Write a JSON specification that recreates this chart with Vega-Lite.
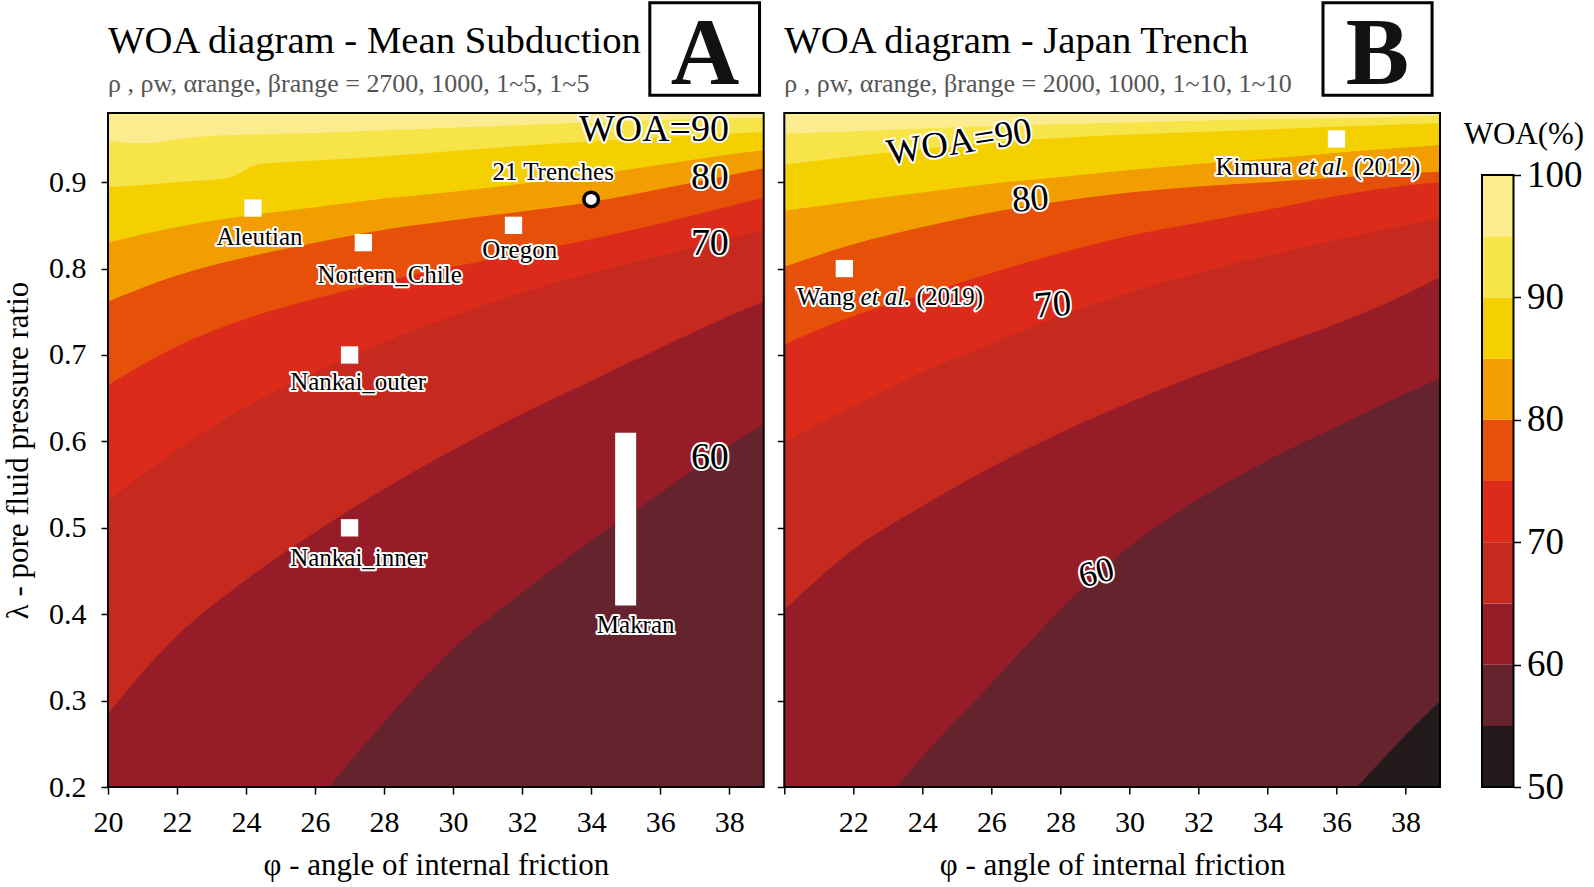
{
  "$schema": "https://vega.github.io/schema/vega-lite/v6.json",
  "background": "white",
  "padding": {"left": 2, "top": 1, "right": 2, "bottom": 2},
  "bounds": "flush",
  "spacing": 20.3,
  "config": {
    "font": "Liberation Serif",
    "view": {"stroke": null},
    "axis": {"domain": false, "grid": false, "tickColor": "#000", "tickSize": 7, "tickWidth": 1.5, "labelFont": "Liberation Serif", "labelFontSize": 30, "labelColor": "#000", "titleFont": "Liberation Serif", "titleFontSize": 31, "titleFontWeight": "normal", "titleColor": "#000", "labelPadding": 13, "titlePadding": 13, "labelFlush": false, "labelOverlap": false},
    "text": {"font": "Liberation Serif"}
  },
  "datasets": {
    "contA": [
      {"level":60,"phi":20,"lam":-0.12},{"level":60,"phi":22,"lam":-0.02},{"level":60,"phi":24,"lam":0.08},{"level":60,"phi":26,"lam":0.18},{"level":60,"phi":28,"lam":0.275},{"level":60,"phi":30,"lam":0.36},{"level":60,"phi":32,"lam":0.425},{"level":60,"phi":34,"lam":0.485},{"level":60,"phi":36,"lam":0.54},{"level":60,"phi":38,"lam":0.595},{"level":60,"phi":39,"lam":0.62},
      {"level":65,"phi":20,"lam":0.285},{"level":65,"phi":22,"lam":0.375},{"level":65,"phi":24,"lam":0.44},{"level":65,"phi":26,"lam":0.495},{"level":65,"phi":28,"lam":0.545},{"level":65,"phi":30,"lam":0.59},{"level":65,"phi":32,"lam":0.632},{"level":65,"phi":34,"lam":0.67},{"level":65,"phi":36,"lam":0.708},{"level":65,"phi":38,"lam":0.745},{"level":65,"phi":39,"lam":0.762},
      {"level":70,"phi":20,"lam":0.532},{"level":70,"phi":22,"lam":0.59},{"level":70,"phi":24,"lam":0.64},{"level":70,"phi":26,"lam":0.68},{"level":70,"phi":28,"lam":0.715},{"level":70,"phi":30,"lam":0.745},{"level":70,"phi":32,"lam":0.772},{"level":70,"phi":34,"lam":0.795},{"level":70,"phi":36,"lam":0.815},{"level":70,"phi":38,"lam":0.835},{"level":70,"phi":39,"lam":0.844},
      {"level":75,"phi":20,"lam":0.665},{"level":75,"phi":22,"lam":0.71},{"level":75,"phi":24,"lam":0.742},{"level":75,"phi":26,"lam":0.765},{"level":75,"phi":28,"lam":0.785},{"level":75,"phi":30,"lam":0.802},{"level":75,"phi":32,"lam":0.818},{"level":75,"phi":34,"lam":0.834},{"level":75,"phi":36,"lam":0.852},{"level":75,"phi":38,"lam":0.872},{"level":75,"phi":39,"lam":0.882},
      {"level":80,"phi":20,"lam":0.762},{"level":80,"phi":22,"lam":0.792},{"level":80,"phi":24,"lam":0.813},{"level":80,"phi":26,"lam":0.83},{"level":80,"phi":28,"lam":0.845},{"level":80,"phi":30,"lam":0.856},{"level":80,"phi":32,"lam":0.866},{"level":80,"phi":34,"lam":0.877},{"level":80,"phi":36,"lam":0.892},{"level":80,"phi":38,"lam":0.908},{"level":80,"phi":39,"lam":0.916},
      {"level":85,"phi":20,"lam":0.83},{"level":85,"phi":22,"lam":0.848},{"level":85,"phi":24,"lam":0.861},{"level":85,"phi":26,"lam":0.871},{"level":85,"phi":28,"lam":0.881},{"level":85,"phi":30,"lam":0.889},{"level":85,"phi":32,"lam":0.898},{"level":85,"phi":34,"lam":0.908},{"level":85,"phi":36,"lam":0.92},{"level":85,"phi":38,"lam":0.932},{"level":85,"phi":39,"lam":0.937},
      {"level":90,"phi":20,"lam":0.894},{"level":90,"phi":22,"lam":0.9},{"level":90,"phi":23.5,"lam":0.905},{"level":90,"phi":24.3,"lam":0.92},{"level":90,"phi":26,"lam":0.925},{"level":90,"phi":28,"lam":0.93},{"level":90,"phi":30,"lam":0.936},{"level":90,"phi":32,"lam":0.942},{"level":90,"phi":34,"lam":0.947},{"level":90,"phi":36,"lam":0.952},{"level":90,"phi":38,"lam":0.956},{"level":90,"phi":39,"lam":0.958},
      {"level":95,"phi":20,"lam":0.948},{"level":95,"phi":21,"lam":0.945},{"level":95,"phi":22.5,"lam":0.952},{"level":95,"phi":24,"lam":0.955},{"level":95,"phi":26,"lam":0.957},{"level":95,"phi":28,"lam":0.96},{"level":95,"phi":30,"lam":0.963},{"level":95,"phi":32,"lam":0.966},{"level":95,"phi":34,"lam":0.969},{"level":95,"phi":36,"lam":0.972},{"level":95,"phi":38,"lam":0.974},{"level":95,"phi":39,"lam":0.975}
    ],
    "contB": [
      {"level":55,"phi":20,"lam":-0.5},{"level":55,"phi":22,"lam":-0.4},{"level":55,"phi":24,"lam":-0.3},{"level":55,"phi":26,"lam":-0.2},{"level":55,"phi":28,"lam":-0.11},{"level":55,"phi":30,"lam":-0.03},{"level":55,"phi":32,"lam":0.03},{"level":55,"phi":34,"lam":0.095},{"level":55,"phi":36,"lam":0.175},{"level":55,"phi":38,"lam":0.26},{"level":55,"phi":39,"lam":0.3},
      {"level":60,"phi":20,"lam":0.04},{"level":60,"phi":22,"lam":0.14},{"level":60,"phi":24,"lam":0.235},{"level":60,"phi":26,"lam":0.32},{"level":60,"phi":28,"lam":0.405},{"level":60,"phi":30,"lam":0.478},{"level":60,"phi":32,"lam":0.533},{"level":60,"phi":34,"lam":0.578},{"level":60,"phi":36,"lam":0.617},{"level":60,"phi":38,"lam":0.655},{"level":60,"phi":39,"lam":0.673},
      {"level":65,"phi":20,"lam":0.405},{"level":65,"phi":22,"lam":0.475},{"level":65,"phi":24,"lam":0.525},{"level":65,"phi":26,"lam":0.57},{"level":65,"phi":28,"lam":0.61},{"level":65,"phi":30,"lam":0.645},{"level":65,"phi":32,"lam":0.677},{"level":65,"phi":34,"lam":0.707},{"level":65,"phi":36,"lam":0.736},{"level":65,"phi":38,"lam":0.77},{"level":65,"phi":39,"lam":0.79},
      {"level":70,"phi":20,"lam":0.6},{"level":70,"phi":22,"lam":0.64},{"level":70,"phi":24,"lam":0.68},{"level":70,"phi":26,"lam":0.713},{"level":70,"phi":28,"lam":0.745},{"level":70,"phi":30,"lam":0.772},{"level":70,"phi":32,"lam":0.795},{"level":70,"phi":34,"lam":0.815},{"level":70,"phi":36,"lam":0.833},{"level":70,"phi":38,"lam":0.85},{"level":70,"phi":39,"lam":0.858},
      {"level":75,"phi":20,"lam":0.712},{"level":75,"phi":22,"lam":0.745},{"level":75,"phi":24,"lam":0.77},{"level":75,"phi":26,"lam":0.795},{"level":75,"phi":28,"lam":0.818},{"level":75,"phi":30,"lam":0.838},{"level":75,"phi":32,"lam":0.853},{"level":75,"phi":34,"lam":0.868},{"level":75,"phi":36,"lam":0.884},{"level":75,"phi":38,"lam":0.896},{"level":75,"phi":39,"lam":0.9},
      {"level":80,"phi":20,"lam":0.802},{"level":80,"phi":22,"lam":0.828},{"level":80,"phi":24,"lam":0.848},{"level":80,"phi":26,"lam":0.865},{"level":80,"phi":28,"lam":0.878},{"level":80,"phi":30,"lam":0.888},{"level":80,"phi":32,"lam":0.895},{"level":80,"phi":34,"lam":0.9},{"level":80,"phi":36,"lam":0.905},{"level":80,"phi":38,"lam":0.91},{"level":80,"phi":39,"lam":0.912},
      {"level":85,"phi":20,"lam":0.867},{"level":85,"phi":22,"lam":0.878},{"level":85,"phi":24,"lam":0.888},{"level":85,"phi":26,"lam":0.898},{"level":85,"phi":28,"lam":0.906},{"level":85,"phi":30,"lam":0.914},{"level":85,"phi":32,"lam":0.921},{"level":85,"phi":34,"lam":0.927},{"level":85,"phi":36,"lam":0.934},{"level":85,"phi":38,"lam":0.94},{"level":85,"phi":39,"lam":0.943},
      {"level":90,"phi":20,"lam":0.92},{"level":90,"phi":22,"lam":0.93},{"level":90,"phi":24,"lam":0.938},{"level":90,"phi":26,"lam":0.946},{"level":90,"phi":28,"lam":0.951},{"level":90,"phi":30,"lam":0.955},{"level":90,"phi":32,"lam":0.958},{"level":90,"phi":34,"lam":0.961},{"level":90,"phi":36,"lam":0.964},{"level":90,"phi":38,"lam":0.967},{"level":90,"phi":39,"lam":0.968},
      {"level":95,"phi":20,"lam":0.956},{"level":95,"phi":22,"lam":0.959},{"level":95,"phi":24,"lam":0.962},{"level":95,"phi":26,"lam":0.965},{"level":95,"phi":28,"lam":0.967},{"level":95,"phi":30,"lam":0.969},{"level":95,"phi":32,"lam":0.971},{"level":95,"phi":34,"lam":0.973},{"level":95,"phi":36,"lam":0.974},{"level":95,"phi":38,"lam":0.976},{"level":95,"phi":39,"lam":0.977}
    ],
    "sitesA": [
      {"name":"Aleutian","phi":24.2,"lam":0.87},
      {"name":"Nortern_Chile","phi":27.4,"lam":0.83},
      {"name":"Oregon","phi":31.75,"lam":0.85},
      {"name":"Nankai_outer","phi":27,"lam":0.7},
      {"name":"Nankai_inner","phi":27,"lam":0.5}
    ],
    "trench21": [{"name":"21 Trenches","phi":34,"lam":0.88}],
    "makran": [{"name":"Makran","phi":35,"lo":0.41,"hi":0.61}],
    "labelsA": [
      {"text":"Aleutian","phi":24.39,"lam":0.8364},
      {"text":"21 Trenches","phi":32.9,"lam":0.9117},
      {"text":"Oregon","phi":31.93,"lam":0.8211},
      {"text":"Nortern_Chile","phi":28.16,"lam":0.7929},
      {"text":"Nankai_outer","phi":27.25,"lam":0.6683},
      {"text":"Nankai_inner","phi":27.25,"lam":0.4647},
      {"text":"Makran","phi":35.29,"lam":0.3871}
    ],
    "clabA": [
      {"text":"WOA=90","phi":35.82,"lam":0.96},
      {"text":"80","phi":37.44,"lam":0.9047},
      {"text":"70","phi":37.44,"lam":0.8282},
      {"text":"60","phi":37.44,"lam":0.5811}
    ],
    "sitesB": [
      {"name":"Wang et al. (2019)","phi":21.74,"lam":0.8},
      {"name":"Kimura et al. (2012)","phi":36,"lam":0.95}
    ],
    "refsB": [
      {"pre":"Wang","mid":"et al.","post":"(2019)","phi":22.21,"lam":0.7671},
      {"pre":"Kimura","mid":"et al.","post":"(2012)","phi":34.88,"lam":0.9176}
    ],
    "clabB": [
      {"text":"WOA=90","phi":25.07,"lam":0.9459},
      {"text":"80","phi":27.13,"lam":0.88},
      {"text":"70","phi":27.78,"lam":0.7576},
      {"text":"60","phi":29.04,"lam":0.4483}
    ],
    "tagA": [{"tag":"A","title":"WOA diagram - Mean Subduction","subtitle":"ρ , ρw, αrange, βrange = 2700, 1000, 1~5, 1~5"}],
    "tagB": [{"tag":"B","title":"WOA diagram - Japan Trench","subtitle":"ρ , ρw, αrange, βrange = 2000, 1000, 1~10, 1~10"}],
    "bands": [
      {"level":50,"lo":50,"hi":55},{"level":55,"lo":55,"hi":60},{"level":60,"lo":60,"hi":65},{"level":65,"lo":65,"hi":70},{"level":70,"lo":70,"hi":75},
      {"level":75,"lo":75,"hi":80},{"level":80,"lo":80,"hi":85},{"level":85,"lo":85,"hi":90},{"level":90,"lo":90,"hi":95},{"level":95,"lo":95,"hi":100}
    ]
  },
  "hconcat": [
    {
      "width": 655.7,
      "height": 674.1,
      "layer": [
        {"data": {"name": "tagA"}, "mark": {"type": "rect", "color": "#65232d"}, "encoding": {
          "x": {"datum": 20, "type": "quantitative", "scale": {"domain": [20, 39], "nice": false, "zero": false}, "axis": {"values": [20,22,24,26,28,30,32,34,36,38], "title": "φ - angle of internal friction"}},
          "x2": {"datum": 39},
          "y": {"datum": 0.2, "type": "quantitative", "scale": {"domain": [0.2, 0.98], "nice": false, "zero": false}, "axis": {"values": [0.2,0.3,0.4,0.5,0.6,0.7,0.8,0.9], "format": ".1f", "title": "λ - pore fluid pressure ratio", "labelPadding": 15, "titlePadding": 14}},
          "y2": {"datum": 0.98}}},
        {"data": {"name": "contA"}, "transform": [{"filter": "datum.level == 60"}], "mark": {"type": "area", "clip": true, "interpolate": "monotone", "color": "#961c28"}, "encoding": {"x": {"field": "phi", "type": "quantitative"}, "y": {"field": "lam", "type": "quantitative"}, "y2": {"datum": 1.05}}},
        {"data": {"name": "contA"}, "transform": [{"filter": "datum.level == 65"}], "mark": {"type": "area", "clip": true, "interpolate": "monotone", "color": "#c62a1f"}, "encoding": {"x": {"field": "phi", "type": "quantitative"}, "y": {"field": "lam", "type": "quantitative"}, "y2": {"datum": 1.05}}},
        {"data": {"name": "contA"}, "transform": [{"filter": "datum.level == 70"}], "mark": {"type": "area", "clip": true, "interpolate": "monotone", "color": "#dc2b1b"}, "encoding": {"x": {"field": "phi", "type": "quantitative"}, "y": {"field": "lam", "type": "quantitative"}, "y2": {"datum": 1.05}}},
        {"data": {"name": "contA"}, "transform": [{"filter": "datum.level == 75"}], "mark": {"type": "area", "clip": true, "interpolate": "monotone", "color": "#e65009"}, "encoding": {"x": {"field": "phi", "type": "quantitative"}, "y": {"field": "lam", "type": "quantitative"}, "y2": {"datum": 1.05}}},
        {"data": {"name": "contA"}, "transform": [{"filter": "datum.level == 80"}], "mark": {"type": "area", "clip": true, "interpolate": "monotone", "color": "#f39e00"}, "encoding": {"x": {"field": "phi", "type": "quantitative"}, "y": {"field": "lam", "type": "quantitative"}, "y2": {"datum": 1.05}}},
        {"data": {"name": "contA"}, "transform": [{"filter": "datum.level == 85"}], "mark": {"type": "area", "clip": true, "interpolate": "monotone", "color": "#f5d000"}, "encoding": {"x": {"field": "phi", "type": "quantitative"}, "y": {"field": "lam", "type": "quantitative"}, "y2": {"datum": 1.05}}},
        {"data": {"name": "contA"}, "transform": [{"filter": "datum.level == 90"}], "mark": {"type": "area", "clip": true, "interpolate": "monotone", "color": "#f6e449"}, "encoding": {"x": {"field": "phi", "type": "quantitative"}, "y": {"field": "lam", "type": "quantitative"}, "y2": {"datum": 1.05}}},
        {"data": {"name": "contA"}, "transform": [{"filter": "datum.level == 95"}], "mark": {"type": "area", "clip": true, "interpolate": "monotone", "color": "#fbec8f"}, "encoding": {"x": {"field": "phi", "type": "quantitative"}, "y": {"field": "lam", "type": "quantitative"}, "y2": {"datum": 1.05}}},
        {"data": {"name": "makran"}, "mark": {"type": "rule", "color": "#ffffff", "strokeWidth": 21}, "encoding": {"x": {"field": "phi", "type": "quantitative"}, "y": {"field": "lo", "type": "quantitative"}, "y2": {"field": "hi"}}},
        {"data": {"name": "sitesA"}, "mark": {"type": "point", "shape": "square", "filled": true, "color": "#ffffff", "size": 300, "opacity": 1}, "encoding": {"x": {"field": "phi", "type": "quantitative"}, "y": {"field": "lam", "type": "quantitative"}}},
        {"data": {"name": "trench21"}, "mark": {"type": "point", "shape": "circle", "filled": true, "fill": "#ffffff", "stroke": "#000000", "strokeWidth": 3.5, "size": 210, "opacity": 1}, "encoding": {"x": {"field": "phi", "type": "quantitative"}, "y": {"field": "lam", "type": "quantitative"}}},
        {"data": {"name": "labelsA"}, "mark": {"type": "text", "fontSize": 25, "align": "center", "baseline": "middle", "fill": "#000", "stroke": "#fff", "strokeWidth": 4, "strokeJoin": "round"}, "encoding": {"x": {"field": "phi", "type": "quantitative"}, "y": {"field": "lam", "type": "quantitative"}, "text": {"field": "text"}}},
        {"data": {"name": "labelsA"}, "mark": {"type": "text", "fontSize": 25, "align": "center", "baseline": "middle", "fill": "#000"}, "encoding": {"x": {"field": "phi", "type": "quantitative"}, "y": {"field": "lam", "type": "quantitative"}, "text": {"field": "text"}}},
        {"data": {"name": "clabA"}, "mark": {"type": "text", "fontSize": 38, "align": "center", "baseline": "middle", "fill": "#000", "stroke": "#fff", "strokeWidth": 4, "strokeJoin": "round"}, "encoding": {"x": {"field": "phi", "type": "quantitative"}, "y": {"field": "lam", "type": "quantitative"}, "text": {"field": "text"}}},
        {"data": {"name": "clabA"}, "mark": {"type": "text", "fontSize": 38, "align": "center", "baseline": "middle", "fill": "#000"}, "encoding": {"x": {"field": "phi", "type": "quantitative"}, "y": {"field": "lam", "type": "quantitative"}, "text": {"field": "text"}}},
        {"data": {"name": "tagA"}, "mark": {"type": "rect", "filled": true, "fill": "#ffffff", "stroke": "#000000", "strokeWidth": 3}, "encoding": {"x": {"datum": 35.7}, "x2": {"datum": 38.88}, "y": {"datum": 1.0006}, "y2": {"datum": 1.1076}}},
        {"data": {"name": "tagA"}, "mark": {"type": "text", "fontSize": 95, "fontWeight": "bold", "align": "center", "baseline": "alphabetic", "fill": "#111"}, "encoding": {"x": {"datum": 37.3}, "y": {"datum": 1.0141}, "text": {"field": "tag"}}},
        {"data": {"name": "tagA"}, "mark": {"type": "text", "fontSize": 38.7, "align": "left", "baseline": "alphabetic", "fill": "#000"}, "encoding": {"x": {"datum": 20}, "y": {"datum": 1.0489}, "text": {"field": "title"}}},
        {"data": {"name": "tagA"}, "mark": {"type": "text", "fontSize": 26, "align": "left", "baseline": "alphabetic", "fill": "#555555"}, "encoding": {"x": {"datum": 20}, "y": {"datum": 1.004}, "text": {"field": "subtitle"}}},
        {"data": {"name": "tagA"}, "mark": {"type": "rect", "filled": false, "color": "#000000", "strokeWidth": 2}, "encoding": {"x": {"datum": 20}, "x2": {"datum": 39}, "y": {"datum": 0.2}, "y2": {"datum": 0.98}}}
      ]
    },
    {
      "width": 655.7,
      "height": 674.1,
      "layer": [
        {"data": {"name": "tagB"}, "mark": {"type": "rect", "color": "#231a1c"}, "encoding": {
          "x": {"datum": 20, "type": "quantitative", "scale": {"domain": [20, 39], "nice": false, "zero": false}, "axis": {"values": [20,22,24,26,28,30,32,34,36,38], "labelExpr": "datum.value == 20 ? '' : datum.label", "title": "φ - angle of internal friction"}},
          "x2": {"datum": 39},
          "y": {"datum": 0.2, "type": "quantitative", "scale": {"domain": [0.2, 0.98], "nice": false, "zero": false}, "axis": {"values": [0.2,0.3,0.4,0.5,0.6,0.7,0.8,0.9], "labels": false, "title": null}},
          "y2": {"datum": 0.98}}},
        {"data": {"name": "contB"}, "transform": [{"filter": "datum.level == 55"}], "mark": {"type": "area", "clip": true, "interpolate": "monotone", "color": "#65232d"}, "encoding": {"x": {"field": "phi", "type": "quantitative"}, "y": {"field": "lam", "type": "quantitative"}, "y2": {"datum": 1.05}}},
        {"data": {"name": "contB"}, "transform": [{"filter": "datum.level == 60"}], "mark": {"type": "area", "clip": true, "interpolate": "monotone", "color": "#961c28"}, "encoding": {"x": {"field": "phi", "type": "quantitative"}, "y": {"field": "lam", "type": "quantitative"}, "y2": {"datum": 1.05}}},
        {"data": {"name": "contB"}, "transform": [{"filter": "datum.level == 65"}], "mark": {"type": "area", "clip": true, "interpolate": "monotone", "color": "#c62a1f"}, "encoding": {"x": {"field": "phi", "type": "quantitative"}, "y": {"field": "lam", "type": "quantitative"}, "y2": {"datum": 1.05}}},
        {"data": {"name": "contB"}, "transform": [{"filter": "datum.level == 70"}], "mark": {"type": "area", "clip": true, "interpolate": "monotone", "color": "#dc2b1b"}, "encoding": {"x": {"field": "phi", "type": "quantitative"}, "y": {"field": "lam", "type": "quantitative"}, "y2": {"datum": 1.05}}},
        {"data": {"name": "contB"}, "transform": [{"filter": "datum.level == 75"}], "mark": {"type": "area", "clip": true, "interpolate": "monotone", "color": "#e65009"}, "encoding": {"x": {"field": "phi", "type": "quantitative"}, "y": {"field": "lam", "type": "quantitative"}, "y2": {"datum": 1.05}}},
        {"data": {"name": "contB"}, "transform": [{"filter": "datum.level == 80"}], "mark": {"type": "area", "clip": true, "interpolate": "monotone", "color": "#f39e00"}, "encoding": {"x": {"field": "phi", "type": "quantitative"}, "y": {"field": "lam", "type": "quantitative"}, "y2": {"datum": 1.05}}},
        {"data": {"name": "contB"}, "transform": [{"filter": "datum.level == 85"}], "mark": {"type": "area", "clip": true, "interpolate": "monotone", "color": "#f5d000"}, "encoding": {"x": {"field": "phi", "type": "quantitative"}, "y": {"field": "lam", "type": "quantitative"}, "y2": {"datum": 1.05}}},
        {"data": {"name": "contB"}, "transform": [{"filter": "datum.level == 90"}], "mark": {"type": "area", "clip": true, "interpolate": "monotone", "color": "#f6e449"}, "encoding": {"x": {"field": "phi", "type": "quantitative"}, "y": {"field": "lam", "type": "quantitative"}, "y2": {"datum": 1.05}}},
        {"data": {"name": "contB"}, "transform": [{"filter": "datum.level == 95"}], "mark": {"type": "area", "clip": true, "interpolate": "monotone", "color": "#fbec8f"}, "encoding": {"x": {"field": "phi", "type": "quantitative"}, "y": {"field": "lam", "type": "quantitative"}, "y2": {"datum": 1.05}}},
        {"data": {"name": "sitesB"}, "mark": {"type": "point", "shape": "square", "filled": true, "color": "#ffffff", "size": 300, "opacity": 1}, "encoding": {"x": {"field": "phi", "type": "quantitative"}, "y": {"field": "lam", "type": "quantitative"}}},
        {"data": {"name": "refsB"}, "mark": {"type": "text", "fontSize": 25, "align": "right", "baseline": "middle", "dx": -6, "fill": "#000", "stroke": "#fff", "strokeWidth": 4, "strokeJoin": "round"}, "encoding": {"x": {"field": "phi", "type": "quantitative"}, "y": {"field": "lam", "type": "quantitative"}, "text": {"field": "pre"}}},
        {"data": {"name": "refsB"}, "mark": {"type": "text", "fontSize": 25, "fontStyle": "italic", "align": "left", "baseline": "middle", "fill": "#000", "stroke": "#fff", "strokeWidth": 4, "strokeJoin": "round"}, "encoding": {"x": {"field": "phi", "type": "quantitative"}, "y": {"field": "lam", "type": "quantitative"}, "text": {"field": "mid"}}},
        {"data": {"name": "refsB"}, "mark": {"type": "text", "fontSize": 25, "align": "left", "baseline": "middle", "dx": 56, "fill": "#000", "stroke": "#fff", "strokeWidth": 4, "strokeJoin": "round"}, "encoding": {"x": {"field": "phi", "type": "quantitative"}, "y": {"field": "lam", "type": "quantitative"}, "text": {"field": "post"}}},
        {"data": {"name": "refsB"}, "mark": {"type": "text", "fontSize": 25, "align": "right", "baseline": "middle", "dx": -6, "fill": "#000"}, "encoding": {"x": {"field": "phi", "type": "quantitative"}, "y": {"field": "lam", "type": "quantitative"}, "text": {"field": "pre"}}},
        {"data": {"name": "refsB"}, "mark": {"type": "text", "fontSize": 25, "fontStyle": "italic", "align": "left", "baseline": "middle", "fill": "#000"}, "encoding": {"x": {"field": "phi", "type": "quantitative"}, "y": {"field": "lam", "type": "quantitative"}, "text": {"field": "mid"}}},
        {"data": {"name": "refsB"}, "mark": {"type": "text", "fontSize": 25, "align": "left", "baseline": "middle", "dx": 56, "fill": "#000"}, "encoding": {"x": {"field": "phi", "type": "quantitative"}, "y": {"field": "lam", "type": "quantitative"}, "text": {"field": "post"}}},
        {"data": {"name": "clabB"}, "transform": [{"filter": "datum.text == 'WOA=90'"}], "mark": {"type": "text", "fontSize": 37, "angle": -9, "align": "center", "baseline": "middle", "fill": "#000", "stroke": "#fff", "strokeWidth": 4, "strokeJoin": "round"}, "encoding": {"x": {"field": "phi", "type": "quantitative"}, "y": {"field": "lam", "type": "quantitative"}, "text": {"field": "text"}}},
        {"data": {"name": "clabB"}, "transform": [{"filter": "datum.text == 'WOA=90'"}], "mark": {"type": "text", "fontSize": 37, "angle": -9, "align": "center", "baseline": "middle", "fill": "#000"}, "encoding": {"x": {"field": "phi", "type": "quantitative"}, "y": {"field": "lam", "type": "quantitative"}, "text": {"field": "text"}}},
        {"data": {"name": "clabB"}, "transform": [{"filter": "datum.text == '80' || datum.text == '70'"}], "mark": {"type": "text", "fontSize": 37, "angle": -5, "align": "center", "baseline": "middle", "fill": "#000", "stroke": "#fff", "strokeWidth": 4, "strokeJoin": "round"}, "encoding": {"x": {"field": "phi", "type": "quantitative"}, "y": {"field": "lam", "type": "quantitative"}, "text": {"field": "text"}}},
        {"data": {"name": "clabB"}, "transform": [{"filter": "datum.text == '80' || datum.text == '70'"}], "mark": {"type": "text", "fontSize": 37, "angle": -5, "align": "center", "baseline": "middle", "fill": "#000"}, "encoding": {"x": {"field": "phi", "type": "quantitative"}, "y": {"field": "lam", "type": "quantitative"}, "text": {"field": "text"}}},
        {"data": {"name": "clabB"}, "transform": [{"filter": "datum.text == '60'"}], "mark": {"type": "text", "fontSize": 35, "angle": -15, "align": "center", "baseline": "middle", "fill": "#000", "stroke": "#fff", "strokeWidth": 4, "strokeJoin": "round"}, "encoding": {"x": {"field": "phi", "type": "quantitative"}, "y": {"field": "lam", "type": "quantitative"}, "text": {"field": "text"}}},
        {"data": {"name": "clabB"}, "transform": [{"filter": "datum.text == '60'"}], "mark": {"type": "text", "fontSize": 35, "angle": -15, "align": "center", "baseline": "middle", "fill": "#000"}, "encoding": {"x": {"field": "phi", "type": "quantitative"}, "y": {"field": "lam", "type": "quantitative"}, "text": {"field": "text"}}},
        {"data": {"name": "tagB"}, "mark": {"type": "rect", "filled": true, "fill": "#ffffff", "stroke": "#000000", "strokeWidth": 3}, "encoding": {"x": {"datum": 35.61}, "x2": {"datum": 38.77}, "y": {"datum": 1.0006}, "y2": {"datum": 1.1076}}},
        {"data": {"name": "tagB"}, "mark": {"type": "text", "fontSize": 95, "fontWeight": "bold", "align": "center", "baseline": "alphabetic", "fill": "#111"}, "encoding": {"x": {"datum": 37.19}, "y": {"datum": 1.0141}, "text": {"field": "tag"}}},
        {"data": {"name": "tagB"}, "mark": {"type": "text", "fontSize": 38.7, "align": "left", "baseline": "alphabetic", "fill": "#000"}, "encoding": {"x": {"datum": 20}, "y": {"datum": 1.0489}, "text": {"field": "title"}}},
        {"data": {"name": "tagB"}, "mark": {"type": "text", "fontSize": 26, "align": "left", "baseline": "alphabetic", "fill": "#555555"}, "encoding": {"x": {"datum": 20}, "y": {"datum": 1.004}, "text": {"field": "subtitle"}}},
        {"data": {"name": "tagB"}, "mark": {"type": "rect", "filled": false, "color": "#000000", "strokeWidth": 2}, "encoding": {"x": {"datum": 20}, "x2": {"datum": 39}, "y": {"datum": 0.2}, "y2": {"datum": 0.98}}}
      ]
    },
    {
      "width": 52.9,
      "height": 674.1,
      "layer": [
        {"data": {"name": "bands"}, "mark": {"type": "rect"}, "encoding": {
          "x": {"datum": 0, "type": "quantitative", "scale": {"domain": [-0.679, 1], "nice": false, "zero": false}, "axis": null},
          "x2": {"datum": 1},
          "y": {"field": "lo", "type": "quantitative", "scale": {"domain": [50, 105.07], "nice": false, "zero": false}, "axis": {"orient": "right", "values": [50,60,70,80,90,100], "title": null, "labelPadding": 6, "labelFontSize": 37}},
          "y2": {"field": "hi"},
          "color": {"field": "level", "type": "ordinal", "legend": null, "scale": {"domain": [50,55,60,65,70,75,80,85,90,95], "range": ["#231a1c","#65232d","#961c28","#c62a1f","#dc2b1b","#e65009","#f39e00","#f5d000","#f6e449","#fbec8f"]}}
        }},
        {"data": {"name": "tagA"}, "mark": {"type": "rect", "filled": false, "color": "#000000", "strokeWidth": 2}, "encoding": {"x": {"datum": 0}, "x2": {"datum": 1}, "y": {"datum": 50}, "y2": {"datum": 100}}},
        {"data": {"name": "tagA"}, "mark": {"type": "text", "text": "WOA(%)", "fontSize": 31, "align": "center", "baseline": "alphabetic", "fill": "#000"}, "encoding": {"x": {"datum": 1.33}, "y": {"datum": 102.5}}}
      ]
    }
  ]
}
